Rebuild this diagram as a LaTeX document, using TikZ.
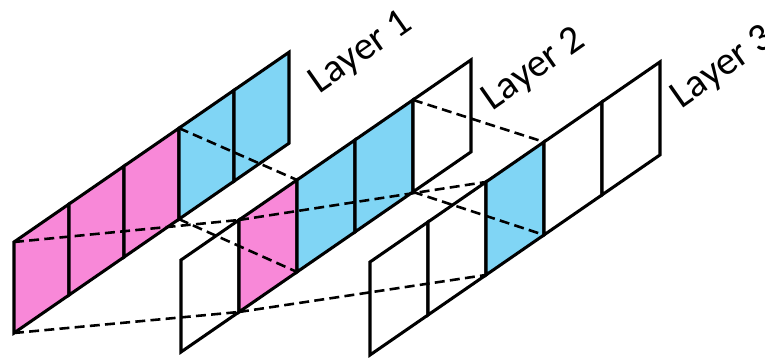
\documentclass[tikz,border=0pt]{standalone}
\usepackage{fontspec}
\setmainfont{Carlito}
\usepackage{xcolor}
\usepackage{tikz}
\usetikzlibrary{calc}
\definecolor{cellPink}{HTML}{F888D8}
\definecolor{cellBlue}{HTML}{80D5F5}
\tikzset{
  cell/.style={draw=black,line width=2.6pt,line join=miter},
  link/.style={draw=black,line width=2.2pt,dash pattern=on 8.5pt off 4.5pt},
  layerlabel/.style={font=\fontsize{34}{40}\selectfont,rotate=35,inner sep=0pt}
}

\begin{document}
\begin{tikzpicture}[x=0.3mm,y=-0.3mm]
  \useasboundingbox (0,0) rectangle (765,358);

  % corner points of every strip, k = divider index
  \foreach \k in {0,...,5} {
    \coordinate (a\k b) at (14+55*\k, 333-0.69*55*\k);
    \coordinate (a\k t) at (14+55*\k, 242-0.69*55*\k);
    \coordinate (b\k b) at (181+58*\k, 352-0.69*58*\k);
    \coordinate (b\k t) at (181+58*\k, 260-0.69*58*\k);
    \coordinate (c\k b) at (370+58*\k, 355-0.69*58*\k);
    \coordinate (c\k t) at (370+58*\k, 262-0.69*58*\k);
  }

  % layer 1
  \foreach \j/\k/\c in {0/1/cellPink,1/2/cellPink,2/3/cellPink,3/4/cellBlue,4/5/cellBlue}
    \path[cell,fill=\c] (a\j b) -- (a\k b) -- (a\k t) -- (a\j t) -- cycle;
  % layer 2
  \foreach \j/\k/\c in {0/1/white,1/2/cellPink,2/3/cellBlue,3/4/cellBlue,4/5/white}
    \path[cell,fill=\c] (b\j b) -- (b\k b) -- (b\k t) -- (b\j t) -- cycle;
  % layer 3
  \foreach \j/\k/\c in {0/1/white,1/2/white,2/3/cellBlue,3/4/white,4/5/white}
    \path[cell,fill=\c] (c\j b) -- (c\k b) -- (c\k t) -- (c\j t) -- cycle;

  \node[layerlabel] (lab1) at (361,53) {Layer 1};
  \node[layerlabel] (lab2) at (534,70) {Layer 2};
  \node[layerlabel] (lab3) at (723,68) {Layer 3};

  % receptive fields
  \draw[link] (a0t) -- (b1t);
  \draw[link] (a0b) -- (b1b);
  \draw[link] (a3t) -- (b2t);
  \draw[link] (a3b) -- (b2b);
  \draw[link] (b1t) -- (c2t);
  \draw[link] (b1b) -- (c2b);
  \draw[link] (b4t) -- (c3t);
  \draw[link] (b4b) -- (c3b);
\end{tikzpicture}
\end{document}
